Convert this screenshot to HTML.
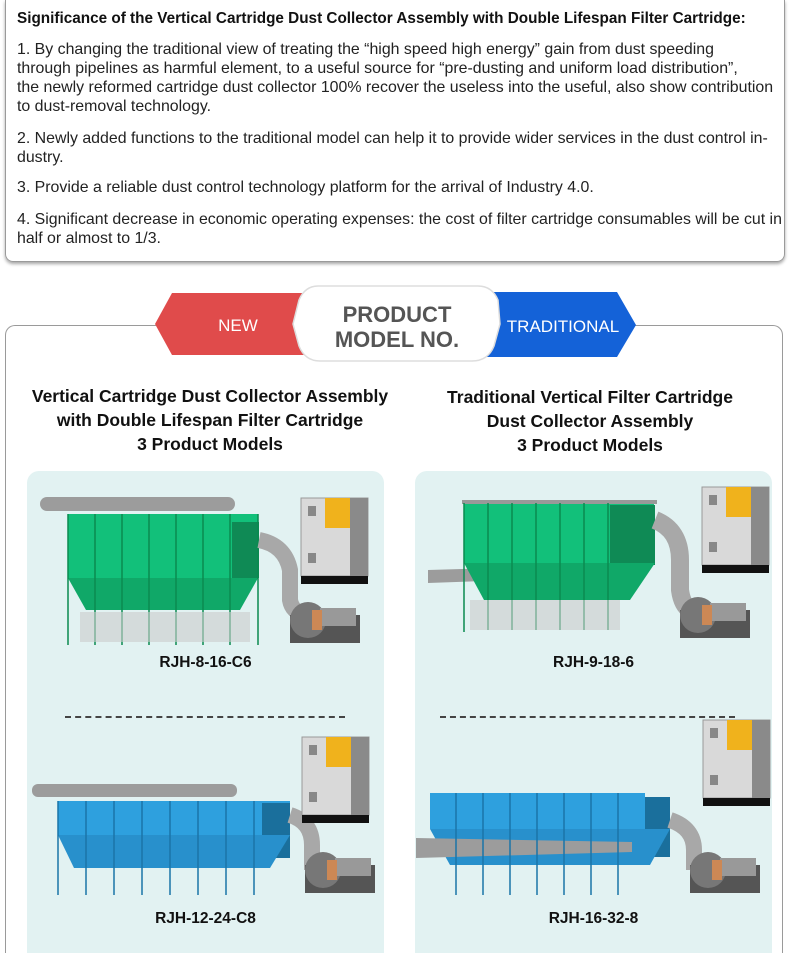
<!DOCTYPE html>
<html style="margin:0;width:790px;height:953px;overflow:hidden"><head><meta charset="utf-8">
<style>
body{margin:0;width:790px;height:953px;background:#fff;font-family:"Liberation Sans",sans-serif;position:relative;overflow:hidden;color:#222}
.box1{position:absolute;left:5px;top:0;width:778px;height:261px;border:1px solid #9a9a9a;border-top:none;border-radius:0 0 8px 8px;box-shadow:0 2px 3px rgba(0,0,0,.35)}
.l{position:absolute;left:17px;font-size:15.9px;white-space:nowrap;line-height:19px}
.t{font-weight:bold;color:#111;font-size:15.3px}
.box2{position:absolute;left:5px;top:325px;width:778px;height:628px;border:1px solid #9a9a9a;border-bottom:none;border-radius:10px 10px 0 0;box-sizing:border-box}
.h{position:absolute;font-weight:bold;font-size:17.5px;text-align:center;line-height:24px;color:#111;white-space:nowrap}
.card{position:absolute;top:471px;width:357px;height:482px;background:#e2f2f2;border-radius:12px 12px 0 0}
.lab{position:absolute;font-weight:bold;font-size:15.5px;color:#111;text-align:center;width:357px}
.dash{position:absolute;top:716px;height:0;border-top:2px dashed #444}
</style></head><body>
<div class="box1"></div>
<div class="l t" style="top:9px">Significance of the Vertical Cartridge Dust Collector Assembly with Double Lifespan Filter Cartridge:</div>
<div class="l" style="top:40px">1. By changing the traditional view of treating the “high speed high energy” gain from dust speeding</div>
<div class="l" style="top:59px">through pipelines as harmful element, to a useful source for “pre-dusting and uniform load distribution”,</div>
<div class="l" style="top:78px">the newly reformed cartridge dust collector 100% recover the useless into the useful, also show contribution</div>
<div class="l" style="top:97px">to dust-removal technology.</div>
<div class="l" style="top:129px">2. Newly added functions to the traditional model can help it to provide wider services in the dust control in-</div>
<div class="l" style="top:148px">dustry.</div>
<div class="l" style="top:178px">3. Provide a reliable dust control technology platform for the arrival of Industry 4.0.</div>
<div class="l" style="top:210px">4. Significant decrease in economic operating expenses: the cost of filter cartridge consumables will be cut in</div>
<div class="l" style="top:229px">half or almost to 1/3.</div>

<div class="box2"></div>
<svg style="position:absolute;left:0;top:280px" width="790" height="90">
<polygon points="172,13 310,13 310,75 172,75 155,44" fill="#e04b4b"/>
<polygon points="480,12 617,12 636,45 617,77 480,77" fill="#1462d8"/>
<path d="M318,6 H478 Q492,6 498,20 L500,44 L494,66 Q488,81 472,81 H320 Q305,81 299,66 L293,44 L299,20 Q305,6 318,6Z" fill="#fff" stroke="#ddd" stroke-width="1.5"/>
<text x="238" y="51" font-family="Liberation Sans" font-size="17" fill="#fff" text-anchor="middle">NEW</text>
<text x="563" y="52" font-family="Liberation Sans" font-size="17" fill="#fff" text-anchor="middle">TRADITIONAL</text>
<text x="397" y="42" font-family="Liberation Sans" font-weight="bold" font-size="22" fill="#555" text-anchor="middle">PRODUCT</text>
<text x="397" y="67" font-family="Liberation Sans" font-weight="bold" font-size="22" fill="#555" text-anchor="middle">MODEL NO.</text>
</svg>

<div class="h" style="left:10px;width:400px;top:384px">Vertical Cartridge Dust Collector Assembly<br>with Double Lifespan Filter Cartridge<br>3 Product Models</div>
<div class="h" style="left:390px;width:400px;top:385px">Traditional Vertical Filter Cartridge<br>Dust Collector Assembly<br>3 Product Models</div>

<div class="card" style="left:27px"></div>
<div class="card" style="left:415px"></div>
<div class="lab" style="left:27px;top:654px">RJH-8-16-C6</div>
<div class="lab" style="left:415px;top:654px">RJH-9-18-6</div>
<div class="lab" style="left:27px;top:910px">RJH-12-24-C8</div>
<div class="lab" style="left:415px;top:910px">RJH-16-32-8</div>
<div class="dash" style="left:65px;width:280px"></div>
<div class="dash" style="left:440px;width:295px"></div>

<svg style="position:absolute;left:0;top:0" width="790" height="953">
<defs>
<g id="cab"><rect x="0" y="0" width="67" height="78" fill="#d9d9d9" stroke="#999"/><rect x="24" y="0" width="25" height="30" fill="#f0b21c"/><rect x="49" y="0" width="18" height="78" fill="#8a8a8a"/><rect x="0" y="78" width="67" height="8" fill="#111"/><rect x="7" y="8" width="8" height="10" fill="#888"/><rect x="7" y="55" width="8" height="10" fill="#888"/></g>
<g id="fan"><rect x="0" y="15" width="70" height="28" fill="#555"/><circle cx="18" cy="20" r="18" fill="#777"/><rect x="30" y="8" width="36" height="18" fill="#999"/><rect x="22" y="10" width="10" height="20" fill="#c85"/></g>
</defs>
<rect x="40" y="497" width="195" height="14" rx="7" fill="#9c9c9c"/>
<rect x="68" y="514" width="190" height="64" fill="#12c07a"/>
<rect x="232" y="522" width="27" height="56" fill="#0f8a55"/>
<polygon points="68,578 258,578 240,610 86,610" fill="#10a868"/>
<g stroke="#0a8a50" stroke-width="1.5"><line x1="95" y1="514" x2="95" y2="645"/><line x1="122" y1="514" x2="122" y2="645"/><line x1="149" y1="514" x2="149" y2="645"/><line x1="176" y1="514" x2="176" y2="645"/><line x1="203" y1="514" x2="203" y2="645"/><line x1="230" y1="514" x2="230" y2="645"/><line x1="68" y1="514" x2="68" y2="645"/><line x1="258" y1="514" x2="258" y2="645"/></g>
<rect x="80" y="612" width="170" height="30" fill="#ccc" opacity=".6"/>
<path d="M259,540 Q285,545 290,570 L290,600 Q292,612 305,615" stroke="#a8a8a8" stroke-width="16" fill="none"/>
<use href="#cab" x="301" y="498"/>
<use href="#fan" x="290" y="600"/>
<polygon points="428,570 595,565 595,577 428,583" fill="#9c9c9c"/>
<rect x="464" y="503" width="190" height="60" fill="#12c07a"/>
<rect x="610" y="505" width="45" height="60" fill="#0f8a55"/>
<polygon points="464,563 655,563 630,600 484,600" fill="#10a868"/>
<rect x="462" y="500" width="195" height="4" fill="#999"/>
<g stroke="#0a8a50" stroke-width="1.5"><line x1="488" y1="503" x2="488" y2="630"/><line x1="512" y1="503" x2="512" y2="630"/><line x1="536" y1="503" x2="536" y2="630"/><line x1="560" y1="503" x2="560" y2="630"/><line x1="584" y1="503" x2="584" y2="630"/><line x1="608" y1="503" x2="608" y2="630"/><line x1="464" y1="503" x2="464" y2="632"/></g>
<rect x="470" y="600" width="150" height="30" fill="#ccc" opacity=".6"/>
<path d="M655,520 Q680,530 680,560 L680,590 Q682,605 690,610" stroke="#a8a8a8" stroke-width="18" fill="none"/>
<use href="#cab" x="702" y="487"/>
<use href="#fan" x="680" y="595"/>
<rect x="32" y="784" width="205" height="13" rx="6" fill="#9c9c9c"/>
<rect x="58" y="801" width="232" height="34" fill="#2ea0de"/>
<rect x="262" y="803" width="28" height="55" fill="#1a6f9c"/>
<polygon points="58,835 290,835 270,868 74,868" fill="#2890cc"/>
<g stroke="#1a74a8" stroke-width="1.5"><line x1="58" y1="801" x2="58" y2="895"/><line x1="86" y1="801" x2="86" y2="895"/><line x1="114" y1="801" x2="114" y2="895"/><line x1="142" y1="801" x2="142" y2="895"/><line x1="170" y1="801" x2="170" y2="895"/><line x1="198" y1="801" x2="198" y2="895"/><line x1="226" y1="801" x2="226" y2="895"/><line x1="254" y1="801" x2="254" y2="895"/></g>
<path d="M290,815 Q312,822 312,845 L312,870" stroke="#a8a8a8" stroke-width="16" fill="none"/>
<use href="#cab" x="302" y="737"/>
<use href="#fan" x="305" y="850"/>
<rect x="430" y="793" width="215" height="36" fill="#2ea0de"/>
<rect x="645" y="797" width="25" height="60" fill="#1a6f9c"/>
<polygon points="430,829 670,829 650,865 450,865" fill="#2890cc"/>
<polygon points="416,838 632,842 632,852 416,858" fill="#9c9c9c"/>
<g stroke="#1a74a8" stroke-width="1.5"><line x1="456" y1="793" x2="456" y2="895"/><line x1="483" y1="793" x2="483" y2="895"/><line x1="510" y1="793" x2="510" y2="895"/><line x1="537" y1="793" x2="537" y2="895"/><line x1="564" y1="793" x2="564" y2="895"/><line x1="591" y1="793" x2="591" y2="895"/><line x1="618" y1="793" x2="618" y2="895"/></g>
<path d="M670,820 Q694,828 694,850 L694,870" stroke="#a8a8a8" stroke-width="16" fill="none"/>
<use href="#cab" x="703" y="720"/>
<use href="#fan" x="690" y="850"/>
</svg>
</body></html>
